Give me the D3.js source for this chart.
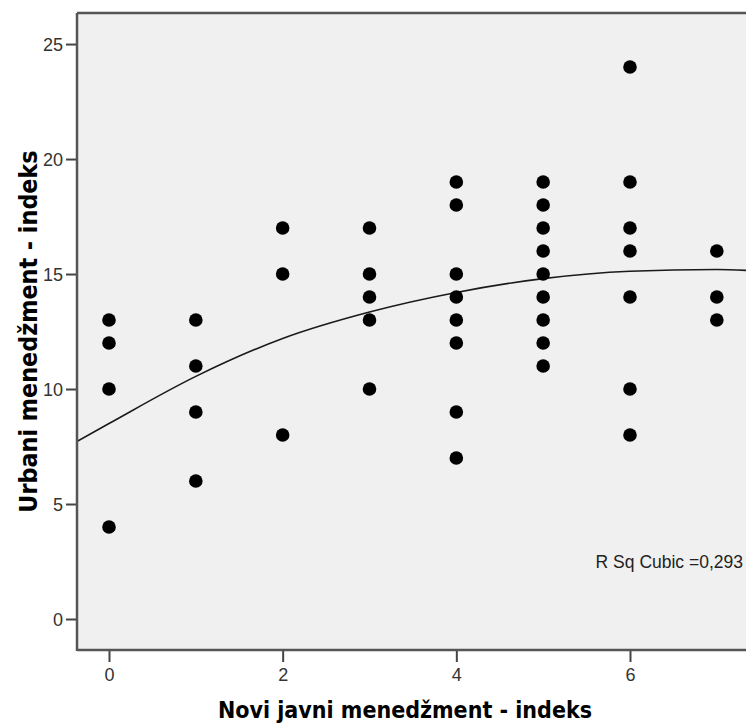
<!DOCTYPE html>
<html>
<head>
<meta charset="utf-8">
<script src="https://cdn.jsdelivr.net/npm/d3@7"></script>
<style>
    body { margin: 0; background: #ffffff; }
    svg { display: block; }
</style>
</head>
<body>
<div id="chart"></div>
<script>
// scatter points, one array per x value group
var novi_x = [0, 0, 0, 0,
    1, 1, 1, 1,
    2, 2, 2,
    3, 3, 3, 3, 3,
    4, 4, 4, 4, 4, 4, 4, 4,
    5, 5, 5, 5, 5, 5, 5, 5, 5,
    6, 6, 6, 6, 6, 6, 6,
    7, 7, 7];
var urbani_y = [13, 12, 10, 4,
    13, 11, 9, 6,
    17, 15, 8,
    17, 15, 14, 13, 10,
    19, 18, 15, 14, 13, 12, 9, 7,
    19, 18, 17, 16, 15, 14, 13, 12, 11,
    24, 19, 17, 16, 14, 10, 8,
    16, 14, 13];

// cubic fit line
var fit_x = [-0.37, 0, 1, 2, 3, 4, 5, 6, 7, 7.34];
var fit_y = [7.72, 8.5, 10.55, 12.2, 13.35, 14.2, 14.8, 15.12, 15.2, 15.16];

var x_ticks = [0, 2, 4, 6];
var y_ticks = [0, 5, 10, 15, 20, 25];

var x_label = 'Novi javni menedžment - indeks';
var y_label = 'Urbani menedžment - indeks';
var fit_label = 'R Sq Cubic =0,293';

var width = 746, height = 724;
var plot_left = 77, plot_top = 13, plot_right = 746, plot_bottom = 650;
var tick_font = '"Liberation Sans", Arial, sans-serif';
var title_font = '"DejaVu Sans Condensed", "DejaVu Sans", sans-serif';

var svg = d3.select('#chart').append('svg')
    .attr('width', width)
    .attr('height', height);

var x = d3.scaleLinear().domain([-0.3685, 7.336]).range([plot_left, plot_right]);
var y = d3.scaleLinear().domain([-1.348, 26.35]).range([plot_bottom, plot_top]);

// plot background
svg.append('rect')
    .attr('x', plot_left).attr('y', plot_top)
    .attr('width', plot_right - plot_left).attr('height', plot_bottom - plot_top)
    .attr('fill', '#f0f0f0');

svg.append('clipPath').attr('id', 'plot_clip')
    .append('rect')
    .attr('x', plot_left).attr('y', plot_top)
    .attr('width', plot_right - plot_left).attr('height', plot_bottom - plot_top);

// fit curve
var fit_points = fit_x.map(function (d, i) { return [d, fit_y[i]]; });
svg.append('path')
    .datum(fit_points)
    .attr('clip-path', 'url(#plot_clip)')
    .attr('fill', 'none')
    .attr('stroke', '#1a1a1a')
    .attr('stroke-width', 1.6)
    .attr('d', d3.line()
        .x(function (d) { return x(d[0]); })
        .y(function (d) { return y(d[1]); })
        .curve(d3.curveMonotoneX));

// points
svg.append('g').selectAll('circle')
    .data(novi_x)
    .enter().append('circle')
    .attr('cx', function (d) { return x(d); })
    .attr('cy', function (d, i) { return y(urbani_y[i]); })
    .attr('r', 6.8)
    .attr('fill', '#000000');

// axes
var x_axis = d3.axisBottom(x).tickValues(x_ticks).tickSize(12).tickSizeOuter(0).tickPadding(6);
var y_axis = d3.axisLeft(y).tickValues(y_ticks).tickSize(11).tickSizeOuter(0).tickPadding(3);

var gx = svg.append('g').attr('transform', 'translate(0,' + plot_bottom + ')').call(x_axis);
var gy = svg.append('g').attr('transform', 'translate(' + plot_left + ',0)').call(y_axis);

[gx, gy].forEach(function (g) {
    g.select('.domain').remove();
    g.selectAll('.tick line').attr('stroke', '#444444').attr('stroke-width', 2);
    g.selectAll('.tick text')
        .attr('fill', '#333333')
        .style('font-family', tick_font)
        .style('font-size', '18px');
});
gy.selectAll('.tick text').attr('dy', '0.36em');

// frame lines: left, bottom, top
svg.append('line')
    .attr('x1', plot_left).attr('x2', plot_left)
    .attr('y1', plot_top).attr('y2', plot_bottom + 1)
    .attr('stroke', '#555555').attr('stroke-width', 2.5);
svg.append('line')
    .attr('x1', plot_left).attr('x2', plot_right)
    .attr('y1', plot_bottom).attr('y2', plot_bottom)
    .attr('stroke', '#555555').attr('stroke-width', 2.5);
svg.append('line')
    .attr('x1', plot_left).attr('x2', plot_right)
    .attr('y1', plot_top).attr('y2', plot_top)
    .attr('stroke', '#555555').attr('stroke-width', 2.5);

// fit label
svg.append('text')
    .attr('x', 743).attr('y', 568)
    .attr('text-anchor', 'end')
    .attr('fill', '#222222')
    .style('font-family', tick_font)
    .style('font-size', '17.5px')
    .text(fit_label);

// axis titles
svg.append('text')
    .attr('x', (plot_left + 733) / 2).attr('y', 718)
    .attr('text-anchor', 'middle')
    .attr('fill', '#000000')
    .style('font-family', title_font)
    .style('font-weight', 'bold')
    .style('font-size', '23px')
    .text(x_label);

svg.append('text')
    .attr('transform', 'translate(37,' + (plot_top + plot_bottom) / 2 + ') rotate(-90)')
    .attr('text-anchor', 'middle')
    .attr('fill', '#000000')
    .style('font-family', title_font)
    .style('font-weight', 'bold')
    .style('font-size', '24.8px')
    .text(y_label);
</script>
</body>
</html>
